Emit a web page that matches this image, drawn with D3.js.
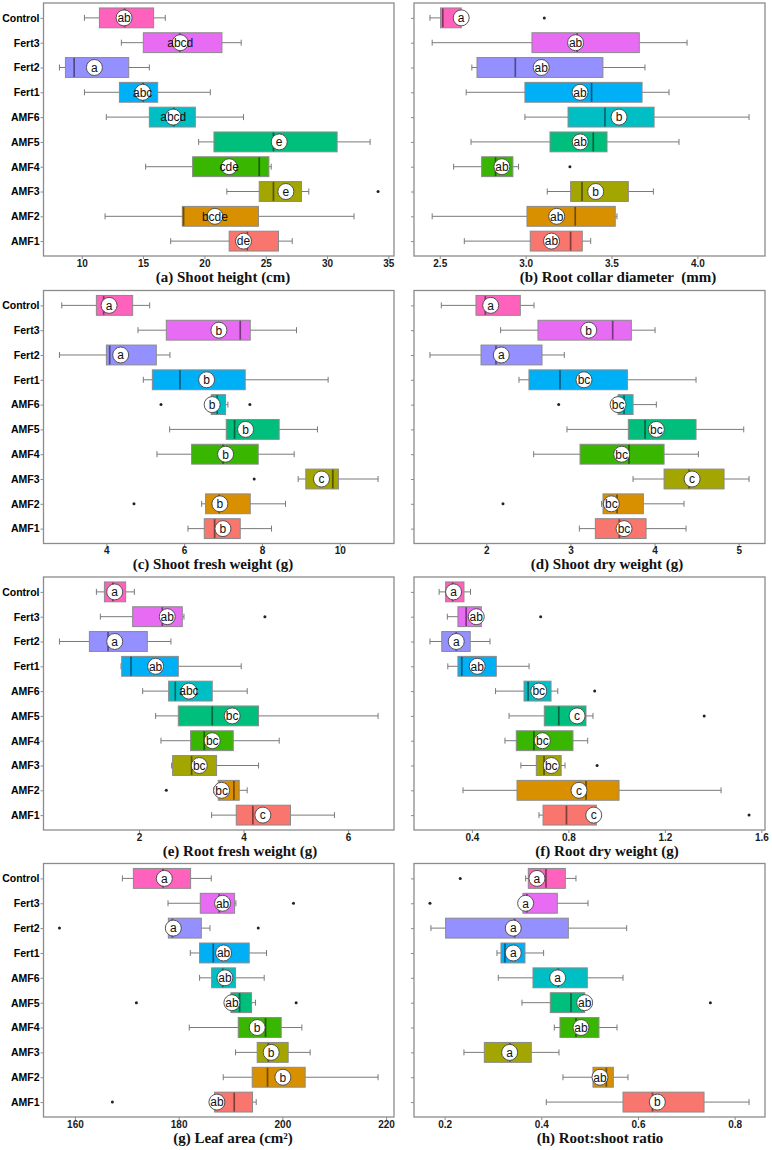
<!DOCTYPE html>
<html><head><meta charset="utf-8">
<script src="https://cdn.jsdelivr.net/npm/d3@7"></script>
<style>body{margin:0;background:#fff} svg{display:block}</style>
</head><body><svg id="chart" width="772" height="1150"></svg>
<script>
// ---------- DATA ----------
const categories = ["Control","Fert3","Fert2","Fert1","AMF6","AMF5","AMF4","AMF3","AMF2","AMF1"];
const groupColors = ["#FF62BC","#E76BF3","#9590FF","#00B0F6","#00BFC4","#00BF7D","#39B600","#A3A500","#D89000","#F8766D"];

// Each box row: [lower whisker, Q1, median, Q3, upper whisker]
// (a) Shoot height
const shootHeightBox = [[10.22,11.44,13.5,15.86,16.81],[13.23,15.02,18.0,21.43,23.0],[8.18,8.67,9.38,13.83,15.51],[10.22,13.07,15.0,16.19,20.48],[12.0,15.51,17.5,19.26,23.19],[19.53,20.78,25.63,30.82,33.51],[15.21,19.04,24.47,25.26,25.45],[21.83,24.47,25.63,27.92,28.51],[11.9,18.2,18.3,24.41,32.2],[17.25,22.02,23.5,26.04,27.16]];
const shootHeightMean = [13.45,18.03,11.03,14.97,17.46,26.1,22.02,26.64,20.86,23.19];
const shootHeightLetters = ["ab","abcd","a","abc","abcd","e","cde","e","bcde","de"];
const shootHeightOutliers = [[],[],[],[],[],[],[],[34.16],[],[]];
const shootHeightTicks = [10,15,20,25,30,35];

// (b) Root collar diameter
const rootCollarBox = [[2.443,2.505,2.518,2.625,2.64],[2.456,3.037,3.3,3.662,3.94],[2.687,2.717,2.94,3.45,3.695],[2.654,2.996,3.384,3.678,3.835],[2.996,3.247,3.462,3.748,4.301],[2.682,3.142,3.394,3.474,3.893],[2.581,2.744,2.825,2.926,2.959],[3.126,3.262,3.328,3.598,3.744],[2.456,3.008,3.289,3.522,3.532],[2.643,3.027,3.262,3.33,3.379]];
const rootCollarMean = [2.625,3.291,3.091,3.317,3.544,3.318,2.862,3.408,3.181,3.151];
const rootCollarLetters = ["a","ab","ab","ab","b","ab","ab","b","ab","ab"];
const rootCollarOutliers = [[3.109],[],[],[],[],[],[3.258],[],[],[]];
const rootCollarTicks = [2.5,3.0,3.5,4.0];

// (c) Shoot fresh weight
const shootFreshBox = [[2.853,3.743,3.93,4.676,5.113],[4.813,5.541,7.442,7.699,8.889],[2.793,4.0,4.086,5.284,5.635],[4.95,5.182,5.892,7.57,9.702],[6.62,6.697,6.85,7.065,7.125],[5.627,7.082,7.296,8.443,9.428],[5.301,6.192,7.0,7.904,8.829],[8.932,9.128,9.822,9.967,10.986],[6.449,6.551,6.9,7.699,8.606],[6.098,6.517,6.783,7.442,8.247]];
const shootFreshMean = [4.07,6.894,4.368,6.577,6.72,7.579,7.065,9.531,6.919,6.997];
const shootFreshLetters = ["a","b","a","b","b","b","b","c","b","b"];
const shootFreshOutliers = [[],[],[],[],[5.404,7.69],[],[],[7.801],[4.71],[]];
const shootFreshTicks = [4,6,8,10];

// (d) Shoot dry weight
const shootDryBox = [[1.465,1.877,1.988,2.404,2.567],[2.17,2.614,3.502,3.724,4.006],[1.33,1.937,2.115,2.662,2.927],[2.388,2.507,2.876,3.677,4.493],[3.53,3.566,3.637,3.744,4.021],[2.959,3.688,3.887,4.493,5.06],[2.563,3.114,3.696,4.113,4.521],[3.744,4.113,4.41,4.826,5.123],[3.37,3.387,3.554,3.867,4.35],[3.106,3.296,3.581,3.899,4.374]];
const shootDryMean = [2.052,3.217,2.178,3.161,3.566,4.021,3.609,4.446,3.486,3.637];
const shootDryLetters = ["a","b","a","bc","bc","bc","bc","c","bc","bc"];
const shootDryOutliers = [[],[],[],[],[2.86],[],[],[],[2.198],[]];
const shootDryTicks = [2,3,4,5];

// (e) Root fresh weight
const rootFreshBox = [[1.185,1.338,1.5,1.745,1.911],[1.261,1.879,2.446,2.828,2.86],[0.478,1.051,1.408,2.159,2.611],[1.656,1.669,1.847,2.752,3.955],[2.07,2.567,2.694,3.401,4.07],[2.318,2.752,3.401,4.287,6.573],[2.42,2.987,3.248,3.803,4.682],[2.624,2.643,3.006,3.484,4.287],[3.43,3.516,3.815,3.917,4.07],[3.389,3.86,4.178,4.898,5.739]];
const rootFreshMean = [1.535,2.541,1.535,2.318,2.955,3.783,3.401,3.153,3.58,4.369];
const rootFreshLetters = ["a","ab","a","ab","abc","bc","bc","bc","bc","c"];
const rootFreshOutliers = [[],[4.408],[],[],[],[],[],[],[2.522],[]];
const rootFreshTicks = [2,4,6];

// (f) Root dry weight
const rootDryBox = [[0.264,0.291,0.32,0.367,0.394],[0.298,0.342,0.376,0.439,0.44],[0.226,0.275,0.335,0.393,0.475],[0.3,0.342,0.358,0.501,0.637],[0.498,0.616,0.633,0.728,0.756],[0.554,0.7,0.76,0.873,0.902],[0.537,0.584,0.657,0.819,0.88],[0.603,0.667,0.699,0.77,0.786],[0.363,0.587,0.873,1.01,1.433],[0.678,0.695,0.792,0.916,0.93]];
const rootDryMean = [0.324,0.418,0.335,0.422,0.677,0.836,0.692,0.729,0.844,0.905];
const rootDryLetters = ["a","ab","a","ab","bc","c","bc","bc","c","c"];
const rootDryOutliers = [[],[0.685],[],[],[0.909],[1.363],[],[0.919],[],[1.549]];
const rootDryTicks = [0.4,0.8,1.2,1.6];

// (g) Leaf area
const leafAreaBox = [[169.15,171.27,177.0,182.31,186.29],[177.95,184.17,187.83,190.79,191.04],[178.0,178.01,178.8,184.37,186.04],[182.25,184.04,186.68,193.61,196.95],[184.04,186.36,188.5,190.98,196.5],[189.8,190.08,191.75,194.06,194.83],[182.05,191.49,196.76,199.78,203.76],[190.98,195.15,197.3,201.12,205.36],[188.6,194.19,197.14,204.4,218.46],[186.5,186.93,190.72,194.25,194.96]];
const leafAreaMean = [177.24,188.47,178.97,188.67,188.92,190.27,195.15,197.85,200.1,187.38];
const leafAreaLetters = ["a","ab","a","ab","ab","ab","b","b","b","ab"];
const leafAreaOutliers = [[],[202.15],[157.01,195.35],[],[],[171.85,202.66],[],[],[],[167.22]];
const leafAreaTicks = [160,180,200,220];

// (h) Root:shoot ratio
const rootShootBox = [[0.3676,0.3731,0.4097,0.4497,0.4717],[0.355,0.362,0.37,0.4331,0.4966],[0.1717,0.2021,0.345,0.4559,0.5766],[0.3083,0.3166,0.3248,0.3662,0.4048],[0.311,0.3828,0.435,0.4952,0.569],[0.36,0.4186,0.4614,0.4897,0.49],[0.4269,0.4386,0.4717,0.5193,0.5566],[0.24,0.2821,0.335,0.3793,0.4366],[0.4448,0.5069,0.5345,0.549,0.5793],[0.4103,0.569,0.63,0.7366,0.8297]];
const rootShootMean = [0.391,0.3676,0.342,0.342,0.4338,0.4897,0.4821,0.3345,0.5214,0.64];
const rootShootLetters = ["a","a","a","a","a","ab","ab","a","ab","b"];
const rootShootOutliers = [[0.2324],[0.1697],[],[],[],[0.7497],[],[],[],[]];
const rootShootTicks = [0.2,0.4,0.6,0.8];

// ---------- LAYOUT ----------
const panels = [
  {title:"(a) Shoot height (cm)", box:shootHeightBox, mean:shootHeightMean, letters:shootHeightLetters, outliers:shootHeightOutliers, ticks:shootHeightTicks, fmt:d3.format("d"), col:0, row:0, tx:223},
  {title:"(b) Root collar diameter  (mm)", box:rootCollarBox, mean:rootCollarMean, letters:rootCollarLetters, outliers:rootCollarOutliers, ticks:rootCollarTicks, fmt:d3.format(".1f"), col:1, row:0, tx:618},
  {title:"(c) Shoot fresh weight (g)", box:shootFreshBox, mean:shootFreshMean, letters:shootFreshLetters, outliers:shootFreshOutliers, ticks:shootFreshTicks, fmt:d3.format("d"), col:0, row:1, tx:213},
  {title:"(d) Shoot dry weight (g)", box:shootDryBox, mean:shootDryMean, letters:shootDryLetters, outliers:shootDryOutliers, ticks:shootDryTicks, fmt:d3.format("d"), col:1, row:1, tx:607},
  {title:"(e) Root fresh weight (g)", box:rootFreshBox, mean:rootFreshMean, letters:rootFreshLetters, outliers:rootFreshOutliers, ticks:rootFreshTicks, fmt:d3.format("d"), col:0, row:2, tx:240},
  {title:"(f) Root dry weight (g)", box:rootDryBox, mean:rootDryMean, letters:rootDryLetters, outliers:rootDryOutliers, ticks:rootDryTicks, fmt:d3.format(".1f"), col:1, row:2, tx:607},
  {title:"(g) Leaf area (cm\u00B2)", box:leafAreaBox, mean:leafAreaMean, letters:leafAreaLetters, outliers:leafAreaOutliers, ticks:leafAreaTicks, fmt:d3.format("d"), col:0, row:3, tx:233},
  {title:"(h) Root:shoot ratio", box:rootShootBox, mean:rootShootMean, letters:rootShootLetters, outliers:rootShootOutliers, ticks:rootShootTicks, fmt:d3.format(".1f"), col:1, row:3, tx:600}
];
const colX = [[43.5, 394], [414, 765]];
const rowY = [[3, 256], [290.5, 543.5], [577, 830], [863.5, 1117]];
const frameColor = "#8c8c8c";
const sans = "'Liberation Sans', Arial, sans-serif";
const serif = "'Liberation Serif', 'Times New Roman', serif";

const svg = d3.select("#chart");
svg.append("rect").attr("width",772).attr("height",1150).attr("fill","#fff");

panels.forEach(p => {
  const [x0, x1] = colX[p.col];
  const [y0, y1] = rowY[p.row];
  const all = p.box.flat().concat(p.outliers.flat());
  const [mn, mx] = d3.extent(all);
  const pad = (mx - mn) * 0.05;
  const x = d3.scaleLinear().domain([mn - pad, mx + pad]).range([x0, x1]);
  const y = d3.scalePoint().domain(categories).range([y0, y1]).padding(0.6);
  const bh = y.step() * 0.8;
  const g = svg.append("g");

  // x axis
  const ax = g.append("g").attr("transform", `translate(0,${y1})`)
    .call(d3.axisBottom(x).tickValues(p.ticks).tickFormat(p.fmt).tickSize(3).tickPadding(0.5));
  ax.select(".domain").remove();
  ax.selectAll(".tick line").attr("stroke", frameColor);
  ax.selectAll(".tick text").attr("font-family", sans).attr("font-weight", "bold")
    .attr("font-size", 10).attr("fill", "#1a1a1a");

  // y axis
  const yAx = d3.axisLeft(y).tickSize(3).tickPadding(1);
  if (p.col === 1) yAx.tickFormat(() => "");
  const ay = g.append("g").attr("transform", `translate(${x0},0)`).call(yAx);
  ay.select(".domain").remove();
  ay.selectAll(".tick line").attr("stroke", frameColor);
  ay.selectAll(".tick text").attr("font-family", sans).attr("font-weight", "bold")
    .attr("font-size", 10.5).attr("fill", "#000");

  // rows
  const rows = categories.map((c, i) => ({c, i, s: p.box[i], m: p.mean[i], l: p.letters[i], o: p.outliers[i], col: groupColors[i]}));
  const rg = g.selectAll("g.row").data(rows).join("g").attr("class", "row")
    .attr("transform", d => `translate(0,${y(d.c)})`);

  // whisker line + caps
  rg.append("line").attr("x1", d => x(d.s[0])).attr("x2", d => x(d.s[4]))
    .attr("stroke", "#7a7a7a").attr("stroke-width", 1);
  rg.append("line").attr("x1", d => x(d.s[0])).attr("x2", d => x(d.s[0]))
    .attr("y1", -3).attr("y2", 3).attr("stroke", "#7a7a7a").attr("stroke-width", 1);
  rg.append("line").attr("x1", d => x(d.s[4])).attr("x2", d => x(d.s[4]))
    .attr("y1", -3).attr("y2", 3).attr("stroke", "#7a7a7a").attr("stroke-width", 1);

  // box
  rg.append("rect").attr("x", d => x(d.s[1])).attr("width", d => x(d.s[3]) - x(d.s[1]))
    .attr("y", -bh / 2).attr("height", bh)
    .attr("fill", d => d.col).attr("stroke", "#8a8a8a").attr("stroke-width", 1);
  // median
  rg.append("line").attr("x1", d => x(d.s[2])).attr("x2", d => x(d.s[2]))
    .attr("y1", -bh / 2 + 0.5).attr("y2", bh / 2 - 0.5)
    .attr("stroke", d => d3.color(d.col).darker(1.8)).attr("stroke-width", 1.7);

  // outliers
  rg.selectAll("circle.out").data(d => d.o).join("circle").attr("class", "out")
    .attr("cx", v => x(v)).attr("cy", 0).attr("r", 1.5).attr("fill", "#222");

  // mean circle with letters
  rg.append("circle").attr("cx", d => x(d.m)).attr("cy", 0).attr("r", 8)
    .attr("fill", "#fff").attr("stroke", "#444").attr("stroke-width", 0.9);
  rg.append("text").attr("x", d => x(d.m)).attr("y", 0).attr("dy", "0.36em")
    .attr("text-anchor", "middle").attr("font-family", sans).attr("font-size", 12)
    .attr("fill", "#111").text(d => d.l);

  // frame
  g.append("rect").attr("x", x0).attr("y", y0).attr("width", x1 - x0).attr("height", y1 - y0)
    .attr("fill", "none").attr("stroke", frameColor).attr("stroke-width", 1.3);

  // title
  g.append("text").attr("x", p.tx).attr("y", y1 + 25.5).attr("text-anchor", "middle")
    .attr("font-family", serif).attr("font-weight", "bold").attr("font-size", 15)
    .attr("fill", "#111").style("white-space", "pre").text(p.title);
});
</script>
</body></html>
